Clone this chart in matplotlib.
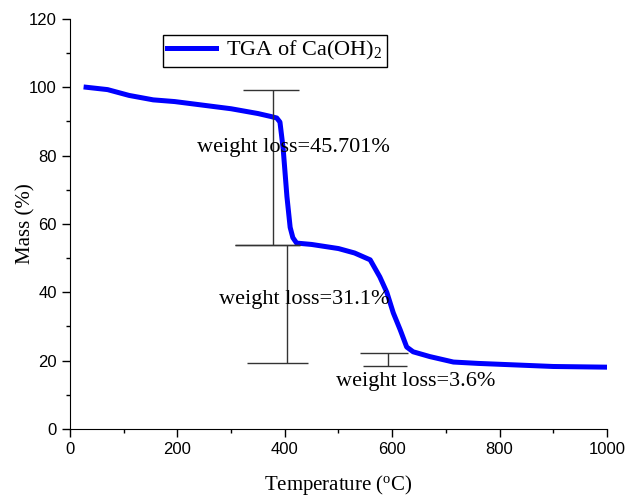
import matplotlib
matplotlib.use('Agg')
import matplotlib.pyplot as plt
from matplotlib.ticker import MultipleLocator

# TGA curve of Ca(OH)2
temperature = [30, 70, 110, 155, 195, 250, 300, 350, 375, 385, 391, 397, 404, 410,
               415, 422, 450, 500, 530, 559, 577, 590, 602, 615, 627, 639, 670,
               714, 760, 838, 900, 1000]
mass = [100, 99.3, 97.6, 96.3, 95.8, 94.7, 93.7, 92.3, 91.4, 91.0, 89.8, 82, 68, 59,
        56, 54.4, 54.0, 52.8, 51.5, 49.5, 44.5, 40, 34, 29, 24, 22.6, 21.2,
        19.6, 19.2, 18.7, 18.3, 18.1]

# weight loss markers: x position, low, high, and cap extents
loss_x = [378, 404, 592]
loss_low = [53.8, 19.3, 18.5]
loss_high = [99.3, 53.8, 22.3]
cap_low_span = [(307, 428), (330, 443), (545, 627)]
cap_high_span = [(322, 426), (307, 428), (540, 630)]
loss_labels = ['weight loss=45.701%', 'weight loss=31.1%', 'weight loss=3.6%']
label_pos = [(417, 82.5), (436, 37.8), (644, 13.8)]

serif = 'Liberation Serif'
sans = 'Liberation Sans'
plt.rcParams['font.family'] = sans
plt.rcParams['mathtext.fontset'] = 'custom'
plt.rcParams['mathtext.rm'] = serif

fig = plt.figure(figsize=(6.27, 4.96), dpi=100)
ax = fig.add_axes([0.1116, 0.135, 0.8565, 0.827])

line, = ax.plot(temperature, mass, color='#0000ff', lw=3.6, solid_joinstyle='round')

for i in range(len(loss_x)):
    ax.vlines(loss_x[i], loss_low[i], loss_high[i], color='#333333', lw=1)
    ax.hlines(loss_low[i], cap_low_span[i][0], cap_low_span[i][1], color='#333333', lw=1)
    ax.hlines(loss_high[i], cap_high_span[i][0], cap_high_span[i][1], color='#333333', lw=1)
    ax.text(label_pos[i][0], label_pos[i][1], loss_labels[i], family=serif, fontsize=16,
            ha='center', va='center')

ax.set_xlim(0, 1000)
ax.set_ylim(0, 120)
ax.xaxis.set_major_locator(MultipleLocator(200))
ax.xaxis.set_minor_locator(MultipleLocator(100))
ax.yaxis.set_major_locator(MultipleLocator(20))
ax.yaxis.set_minor_locator(MultipleLocator(10))
ax.tick_params(which='major', direction='out', length=6, width=1, labelsize=12)
ax.tick_params(which='minor', direction='out', length=3, width=1)
ax.spines['top'].set_visible(False)
ax.spines['right'].set_visible(False)

ax.set_xlabel('Temperature ($\\mathregular{^o}$C)', family=serif, fontsize=15, labelpad=11)
ax.set_ylabel('Mass (%)', family=serif, fontsize=15, labelpad=-5)

leg = ax.legend([line], ['TGA of Ca(OH)$\\mathregular{_2}$'], loc='upper left',
                bbox_to_anchor=(0.173, 0.961), borderaxespad=0, fancybox=False,
                edgecolor='black', framealpha=1, prop={'family': serif, 'size': 16},
                handlelength=2.2, handletextpad=0.45, borderpad=0.2)
leg.get_frame().set_linewidth(1)

fig.savefig('out.png', dpi=100)
